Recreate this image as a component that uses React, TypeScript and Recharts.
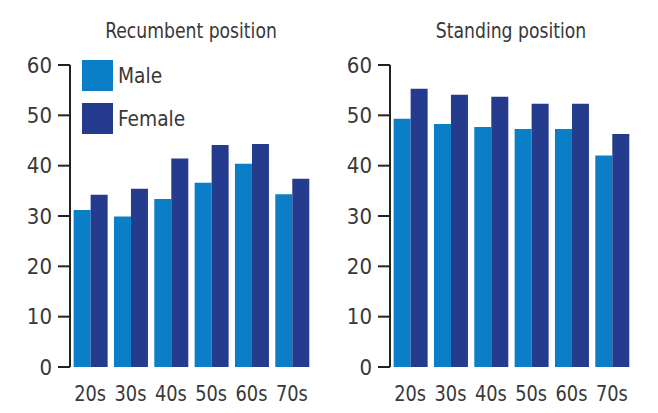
import React from 'react';
import { BarChart, Bar, XAxis, YAxis, Legend } from 'recharts';

const ageGroups = ['20s', '30s', '40s', '50s', '60s', '70s'];
const recumbentMale = [31.2, 29.9, 33.4, 36.6, 40.4, 34.3];
const recumbentFemale = [34.2, 35.4, 41.4, 44.1, 44.3, 37.4];
const standingMale = [49.3, 48.3, 47.7, 47.3, 47.3, 42.0];
const standingFemale = [55.3, 54.1, 53.7, 52.3, 52.3, 46.3];
const yTicks = [0, 10, 20, 30, 40, 50, 60];
const boundaryTicks = [0, 1, 2, 3, 4, 5, 6];
const seriesNames = ['Male', 'Female'];
const seriesColors = ['#0a7ec6', '#253b8e'];
const titles = ['Recumbent position', 'Standing position'];

const FONT = '"Liberation Sans Narrow", "DejaVu Sans Condensed", "Roboto", sans-serif';
const TEXT = '#383838';
const AXIS = '#222222';

const LegendBox = () => (
  <div style={{ fontFamily: FONT, color: TEXT, fontSize: 22 }}>
    {seriesNames.map((n, i) => (
      <div key={n} style={{ display: 'flex', alignItems: 'center', height: 31, marginBottom: 12 }}>
        <div style={{ width: 31, height: 31, background: seriesColors[i], marginRight: 5 }} />
        <span style={{ display: 'inline-block', transform: 'scaleX(0.94)', transformOrigin: 'left center' }}>{n}</span>
      </div>
    ))}
  </div>
);

const CatTick = (props: any) => {
  const { x, y, payload } = props;
  return (
    <text
      transform={`translate(${x},${y}) scale(0.9,1)`}
      textAnchor="middle"
      dy="0.71em"
      fill={TEXT}
      fontSize={22}
      fontFamily={FONT}
    >
      {payload.value}
    </text>
  );
};

type PanelProps = {
  title: string;
  male: number[];
  female: number[];
  left: number;
  width: number;
  yAxisWidth: number;
  marginRight: number;
  showLegend: boolean;
};

const Panel = ({ title, male, female, left, width, yAxisWidth, marginRight, showLegend }: PanelProps) => {
  const data = ageGroups.map((g, i) => ({ group: g, idx: i + 0.5, male: male[i], female: female[i] }));
  const plotLeft = yAxisWidth;
  const plotRight = width - marginRight;
  return (
    <div style={{ position: 'absolute', left, top: 0, width, height: 413 }}>
      <div
        style={{
          position: 'absolute',
          top: 17,
          left: plotLeft - 40,
          width: plotRight - plotLeft + 80,
          textAlign: 'center',
          fontFamily: FONT,
          fontSize: 22,
          lineHeight: '28px',
          color: TEXT,
          transform: 'scaleX(0.87)',
          transformOrigin: 'center center',
        }}
      >
        {title}
      </div>
      <BarChart
        width={width}
        height={413}
        data={data}
        margin={{ top: 65, right: marginRight, bottom: 6, left: 0 }}
        barCategoryGap="9%"
        barGap={0}
      >
        <XAxis
          xAxisId="edge"
          dataKey="idx"
          type="number"
          domain={[0, 6]}
          allowDataOverflow
          ticks={boundaryTicks}
          height={0}
          tickSize={11}
          tickFormatter={() => ''}
          axisLine={{ stroke: AXIS, strokeWidth: 2 }}
          tickLine={{ stroke: AXIS, strokeWidth: 2 }}
        />
        <XAxis
          xAxisId="cat"
          dataKey="group"
          height={40}
          tickLine={false}
          axisLine={false}
          tickSize={0}
          tickMargin={18}
          interval={0}
          tick={<CatTick />}
        />
        <YAxis
          type="number"
          domain={[0, 60]}
          ticks={yTicks}
          width={yAxisWidth}
          tickSize={12}
          tickMargin={6}
          interval={0}
          axisLine={{ stroke: AXIS, strokeWidth: 2 }}
          tickLine={{ stroke: AXIS, strokeWidth: 2 }}
          tick={{ fill: TEXT, fontSize: 22, fontFamily: FONT }}
        />
        {showLegend && (
          <Legend
            layout="horizontal"
            verticalAlign="middle"
            align="center"
            content={() => <LegendBox />}
            wrapperStyle={{ top: 60, left: 82, width: 'auto' }}
          />
        )}
        <Bar xAxisId="cat" dataKey="male" name={seriesNames[0]} fill={seriesColors[0]} isAnimationActive={false} />
        <Bar xAxisId="cat" dataKey="female" name={seriesNames[1]} fill={seriesColors[1]} isAnimationActive={false} />
      </BarChart>
    </div>
  );
};

export default function App() {
  return (
    <div style={{ position: 'absolute', left: 0, top: 0, width: 658, height: 413, background: '#ffffff' }}>
      <Panel
        title={titles[0]}
        male={recumbentMale}
        female={recumbentFemale}
        left={0}
        width={330}
        yAxisWidth={70}
        marginRight={18}
        showLegend
      />
      <Panel
        title={titles[1]}
        male={standingMale}
        female={standingFemale}
        left={330}
        width={328}
        yAxisWidth={60}
        marginRight={26}
        showLegend={false}
      />
    </div>
  );
}
